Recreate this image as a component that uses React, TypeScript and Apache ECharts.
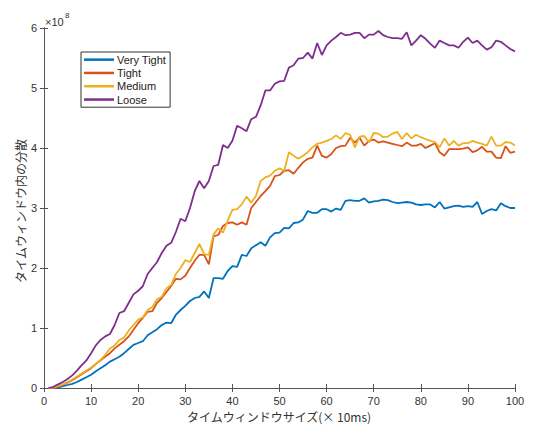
import React, { useEffect, useRef } from "react";
import * as echarts from "echarts";

// Values are in units of 10^8
const SERIES_NAMES = ["Very Tight", "Tight", "Medium", "Loose"];
const COLORS = ["#0072BD", "#D95319", "#EDB120", "#7E2F8E"];
const X_LABEL = "タイムウィンドウサイズ(× 10ms)";
const Y_LABEL = "タイムウィンドウ内の分散";
const X_TICKS = [0, 10, 20, 30, 40, 50, 60, 70, 80, 90, 100];
const Y_TICKS = [0, 1, 2, 3, 4, 5, 6];

const windowSize = [
  1, 2, 3, 4, 5, 6, 7, 8, 9, 10, 11, 12, 13, 14, 15, 16, 17, 18, 19, 20,
  21, 22, 23, 24, 25, 26, 27, 28, 29, 30, 31, 32, 33, 34, 35, 36, 37, 38, 39, 40,
  41, 42, 43, 44, 45, 46, 47, 48, 49, 50, 51, 52, 53, 54, 55, 56, 57, 58, 59, 60,
  61, 62, 63, 64, 65, 66, 67, 68, 69, 70, 71, 72, 73, 74, 75, 76, 77, 78, 79, 80,
  81, 82, 83, 84, 85, 86, 87, 88, 89, 90, 91, 92, 93, 94, 95, 96, 97, 98, 99, 100,
];

const veryTight = [
  0, 0.002, 0.01, 0.03, 0.05, 0.07, 0.1, 0.14, 0.18, 0.22,
  0.28, 0.33, 0.38, 0.44, 0.48, 0.52, 0.58, 0.65, 0.72, 0.75,
  0.78, 0.88, 0.93, 0.98, 1.05, 1.09, 1.08, 1.22, 1.3, 1.37,
  1.45, 1.5, 1.52, 1.61, 1.5, 1.83, 1.83, 1.82, 1.95, 2.03,
  2.02, 2.22, 2.2, 2.33, 2.38, 2.43, 2.37, 2.51, 2.58, 2.59,
  2.67, 2.66, 2.75, 2.76, 2.81, 2.95, 2.92, 2.92, 2.98, 2.98,
  2.94, 2.99, 2.97, 3.12, 3.13, 3.12, 3.12, 3.16, 3.09, 3.11,
  3.12, 3.14, 3.13, 3.1, 3.08, 3.09, 3.1, 3.09, 3.06, 3.05,
  3.06, 3.06, 3.01, 3.1, 2.99, 3.01, 3.03, 3.04, 3.02, 3.03,
  3.02, 3.1, 2.9, 2.95, 2.98, 2.96, 3.08, 3.03, 3.0, 3.0,
];

const tight = [
  0, 0.005, 0.025, 0.055, 0.09, 0.13, 0.18, 0.23, 0.28, 0.33,
  0.4, 0.46, 0.52, 0.58, 0.66, 0.72, 0.78, 0.86, 0.97, 1.08,
  1.17, 1.27, 1.28, 1.42, 1.5, 1.6, 1.7, 1.82, 1.81, 1.87,
  2.0, 2.12, 2.22, 2.22, 2.06, 2.53, 2.55, 2.7, 2.75, 2.76,
  2.72, 2.76, 2.72, 3.0, 3.1, 3.2, 3.28, 3.37, 3.53, 3.55,
  3.62, 3.63, 3.57, 3.67, 3.76, 3.82, 3.84, 4.04, 3.87, 3.84,
  3.9, 4.0, 4.03, 4.04, 4.17, 4.09, 4.17, 4.04, 4.12, 4.14,
  4.09, 4.11, 4.09, 4.07, 4.05, 4.03, 4.09, 4.04, 4.04, 4.07,
  4.0, 4.04, 4.08, 3.93, 3.87, 3.98, 3.98, 3.98, 3.99, 4.01,
  3.93, 3.96, 4.02, 3.94, 3.94, 3.84, 3.83, 4.03, 3.92, 3.94,
];

const medium = [
  0, 0.005, 0.03, 0.06, 0.1, 0.14, 0.19, 0.24, 0.29, 0.34,
  0.4, 0.47, 0.55, 0.66, 0.71, 0.8, 0.84, 0.96, 1.05, 1.14,
  1.18, 1.3, 1.35, 1.48, 1.52, 1.66, 1.72, 1.9, 2.0, 2.13,
  2.1, 2.25, 2.4, 2.23, 2.22, 2.56, 2.66, 2.59, 2.79, 2.97,
  2.98, 3.06, 3.19, 3.09, 3.2, 3.45, 3.51, 3.54, 3.62, 3.66,
  3.62, 3.93, 3.87, 3.82, 3.87, 3.93, 4.01, 4.07, 4.09, 4.12,
  4.15, 4.21, 4.15, 4.25, 4.22, 4.01, 4.19, 4.2, 4.09, 4.25,
  4.24, 4.18, 4.19, 4.24, 4.27, 4.15, 4.25, 4.16, 4.22, 4.18,
  4.15, 4.12, 4.1, 4.01, 4.16, 4.04, 4.12, 4.04, 4.08, 4.08,
  4.12, 4.09, 4.07, 4.04, 4.19, 4.04, 4.04, 4.1, 4.09, 4.04,
];

const loose = [
  0, 0.02, 0.06, 0.1, 0.15, 0.21, 0.29, 0.38, 0.46, 0.58,
  0.71, 0.8, 0.86, 0.9, 1.05, 1.25, 1.28, 1.42, 1.56, 1.62,
  1.7, 1.9, 2.0, 2.1, 2.25, 2.37, 2.42, 2.6, 2.82, 2.78,
  3.0, 3.28, 3.45, 3.33, 3.45, 3.7, 3.72, 4.05, 4.0, 4.12,
  4.37, 4.33, 4.28, 4.48, 4.52, 4.71, 4.96, 4.96, 5.07, 5.11,
  5.12, 5.34, 5.38, 5.49, 5.5, 5.59, 5.49, 5.75, 5.55, 5.71,
  5.79, 5.85, 5.92, 5.88, 5.89, 5.92, 5.92, 5.83, 5.89, 5.89,
  5.95, 5.88, 5.85, 5.83, 5.83, 5.82, 5.93, 5.71, 5.79, 5.88,
  5.82, 5.74, 5.67, 5.79, 5.75, 5.71, 5.71, 5.67, 5.77, 5.84,
  5.75, 5.79, 5.71, 5.64, 5.68, 5.79, 5.77, 5.71, 5.65, 5.61,
];

const SERIES_VALUES = [veryTight, tight, medium, loose];

export default function App() {
  const ref = useRef<HTMLDivElement>(null);
  useEffect(() => {
    if (!ref.current) return;
    const chart = echarts.init(ref.current, undefined, { renderer: "svg" });
    const axisColor = "#555";
    const labelColor = "#333";
    const numFont = "Liberation Sans, Arial, sans-serif";
    const jpFont = "Noto Sans CJK JP, sans-serif";
    const xMin = X_TICKS[0];
    const xMax = X_TICKS[X_TICKS.length - 1];
    const xInt = X_TICKS[1] - X_TICKS[0];
    const yMin = Y_TICKS[0];
    const yMax = Y_TICKS[Y_TICKS.length - 1];
    const yInt = Y_TICKS[1] - Y_TICKS[0];
    const baseAxis = {
      axisLine: { show: true, lineStyle: { color: axisColor, width: 1 } },
      axisTick: { show: true, inside: true, length: 4, lineStyle: { color: axisColor } },
      splitLine: { show: false },
    };
    chart.setOption({
      animation: false,
      backgroundColor: "#fff",
      grid: { left: 44, top: 28, right: 18, bottom: 38, containLabel: false },
      xAxis: [
        {
          ...baseAxis,
          type: "value",
          min: xMin,
          max: xMax,
          interval: xInt,
          position: "bottom",
          axisLabel: { color: labelColor, fontSize: 11, fontFamily: numFont, margin: 7 },
        },
        {
          ...baseAxis,
          type: "value",
          min: xMin,
          max: xMax,
          interval: xInt,
          position: "top",
          axisLabel: { show: false },
        },
      ],
      yAxis: [
        {
          ...baseAxis,
          type: "value",
          min: yMin,
          max: yMax,
          interval: yInt,
          position: "left",
          axisLabel: { color: labelColor, fontSize: 11, fontFamily: numFont, margin: 7 },
        },
        {
          ...baseAxis,
          type: "value",
          min: yMin,
          max: yMax,
          interval: yInt,
          position: "right",
          axisLabel: { show: false },
        },
      ],
      legend: {
        data: SERIES_NAMES.map((n) => ({ name: n, icon: "rect" })),
        orient: "vertical",
        left: 81,
        top: 52,
        itemWidth: 30,
        itemHeight: 2.5,
        itemGap: 0,
        padding: [1, 4, 1, 3],
        borderColor: "#333",
        borderWidth: 1,
        backgroundColor: "#fff",
        textStyle: { fontSize: 11, color: "#222", fontFamily: numFont, lineHeight: 13.3, padding: [0, 0, 0, -2] },
      },
      graphic: [
        {
          type: "text",
          x: 20,
          y: 211,
          rotation: Math.PI / 2,
          style: {
            text: Y_LABEL,
            fontSize: 12,
            fontFamily: jpFont,
            fill: labelColor,
            align: "center",
            verticalAlign: "middle",
          },
        },
        {
          type: "text",
          x: 279,
          y: 416,
          style: {
            text: X_LABEL,
            fontSize: 12,
            fontFamily: jpFont,
            fill: labelColor,
            align: "center",
            verticalAlign: "middle",
          },
        },
        {
          type: "text",
          x: 45,
          y: 22,
          style: {
            text: "×10",
            fontSize: 11,
            fontFamily: numFont,
            fill: labelColor,
            align: "left",
            verticalAlign: "middle",
          },
        },
        {
          type: "text",
          x: 65,
          y: 15,
          style: {
            text: "8",
            fontSize: 8,
            fontFamily: numFont,
            fill: labelColor,
            align: "left",
            verticalAlign: "middle",
          },
        },
      ],
      series: SERIES_NAMES.map((name, i) => ({
        name,
        type: "line",
        xAxisIndex: 0,
        yAxisIndex: 0,
        showSymbol: false,
        symbol: "none",
        lineStyle: { width: 1.8, color: COLORS[i] },
        itemStyle: { color: COLORS[i] },
        data: windowSize.map((x, j) => [x, SERIES_VALUES[i][j]]),
      })),
    });
    return () => chart.dispose();
  }, []);
  return (
    <div
      ref={ref}
      style={{ position: "fixed", left: 0, top: 0, width: 533, height: 426 }}
    />
  );
}
